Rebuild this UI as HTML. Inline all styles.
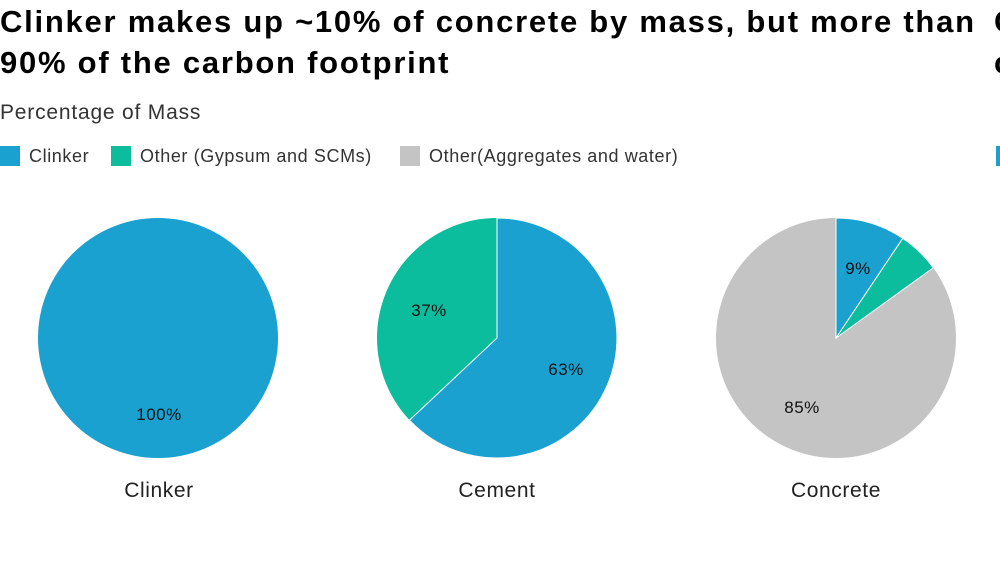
<!DOCTYPE html>
<html><head><meta charset="utf-8"><style>
body{margin:0;width:1000px;height:575px;overflow:hidden;background:#fff;font-family:"Liberation Sans",sans-serif;color:#000;position:relative}
.t{position:absolute;left:0;top:1px;font-size:31px;font-weight:bold;line-height:41px;letter-spacing:1.75px;white-space:nowrap}
.s{position:absolute;left:0;top:101px;font-size:21px;letter-spacing:0.8px;color:#333}
.lg{position:absolute;top:146px;font-size:18px;letter-spacing:0.6px;color:#333;white-space:nowrap}
.sw{display:inline-block;width:20px;height:20px;vertical-align:-4px;margin-right:9px}
</style></head><body>
<div class="t">Clinker makes up ~10% of concrete by mass, but more than<br>90% of the carbon footprint</div>
<div class="t" style="left:994px">C<br>c</div>
<div class="s">Percentage of Mass</div>
<div class="lg" style="left:0"><span class="sw" style="background:#1aa1cf"></span>Clinker</div>
<div class="lg" style="left:111px"><span class="sw" style="background:#0bbd9c"></span>Other (Gypsum and SCMs)</div>
<div class="lg" style="left:400px"><span class="sw" style="background:#c4c4c4"></span>Other(Aggregates and water)</div>
<div class="lg" style="left:996px"><span class="sw" style="background:#1aa1cf"></span></div>
<svg width="1000" height="575" style="position:absolute;left:0;top:0" font-family="Liberation Sans, sans-serif">
<circle cx="158" cy="338" r="120" fill="#1aa1cf"/>
<circle cx="497" cy="338" r="120" fill="#0bbd9c"/>
<path d="M497 338 L497 218 A120 120 0 1 1 409.5 420.2 Z" fill="#1aa1cf" stroke="#fff" stroke-width="1"/>
<circle cx="836" cy="338" r="120" fill="#c4c4c4"/>
<path d="M836 338 L836 218 A120 120 0 0 1 902.8 238.3 Z" fill="#1aa1cf" stroke="#fff" stroke-width="1"/>
<path d="M836 338 L902.8 238.3 A120 120 0 0 1 933.3 267.8 Z" fill="#0bbd9c" stroke="#fff" stroke-width="1"/>
<g font-size="17" fill="#111" text-anchor="middle" letter-spacing="0.5">
<text x="159" y="420">100%</text>
<text x="429" y="316">37%</text>
<text x="566" y="375">63%</text>
<text x="858" y="274">9%</text>
<text x="802" y="413">85%</text>
</g>
<g font-size="21" fill="#222" text-anchor="middle" letter-spacing="0.6">
<text x="159" y="497">Clinker</text>
<text x="497" y="497">Cement</text>
<text x="836" y="497">Concrete</text>
</g>
</svg>
</body></html>
